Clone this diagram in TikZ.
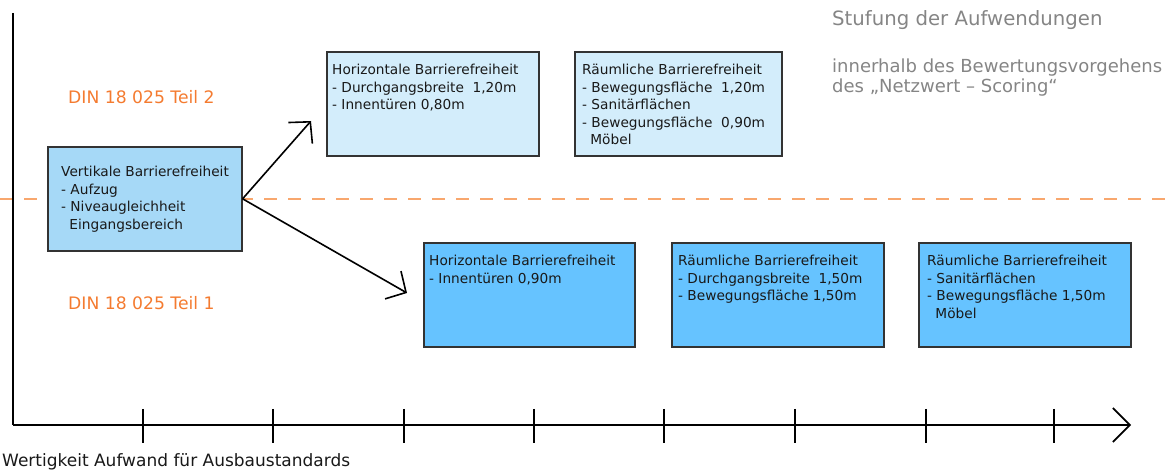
\documentclass[tikz,border=0pt]{standalone}
\usepackage{fontspec}
\setmainfont{DejaVu Sans}
\usetikzlibrary{arrows.meta,positioning}
\definecolor{dinorange}{HTML}{F47B30}
\definecolor{dashorange}{HTML}{F8A76E}
\definecolor{boxpale}{HTML}{D3EDFB}
\definecolor{boxmid}{HTML}{A6D9F7}
\definecolor{boxdeep}{HTML}{66C3FF}
\definecolor{notegray}{HTML}{858585}

\begin{document}
\begin{tikzpicture}[
  x=1pt, y=-1pt,
  box/.style={draw=black!80, line width=1.6pt, anchor=north west, inner sep=0pt, minimum width=212pt, minimum height=104pt},
  boxtext/.style={inner sep=0pt, align=left, font=\fontsize{13.7}{17.5}\selectfont, text=black!90},
  din/.style={anchor=west, inner sep=0pt, text=dinorange, font=\fontsize{17.2}{20}\selectfont},
  note/.style={inner sep=0pt, align=left, text=notegray, font=\fontsize{18}{20}\selectfont},
  arr/.style={line width=1.6pt, -{Straight Barb[length=15pt,width=32pt]}},
  axisline/.style={line width=1.6pt}
]
\useasboundingbox (0,0) rectangle (1171,470);

% level split between Teil 1 and Teil 2
\draw[dashorange, line width=1.4pt, dash pattern=on 13pt off 11pt] (0,199) -- (1171,199);

% axes
\coordinate (ytop) at (13,13);
\coordinate (origin) at (13,425);
\coordinate (xend) at (1131,425);
\draw[axisline] (ytop) -- (origin);
\draw[axisline, -{Straight Barb[length=17pt,width=34pt]}] (origin) -- (xend);
\foreach \x in {143,273,404,534,664,795,926,1054}
  \draw[axisline] (\x,409) -- (\x,443);
\node[anchor=west, inner sep=0pt, text=black!90, font=\fontsize{17}{20}\selectfont] (xlabel) at (2,462) {Wertigkeit Aufwand für Ausbaustandards};

% norm labels
\node[din] (teil2) at (68,97) {DIN 18 025 Teil 2};
\node[din] (teil1) at (68,303) {DIN 18 025 Teil 1};

% heading on the right
\node[note, anchor=west, font=\fontsize{19.7}{22}\selectfont] (title) at (832,20) {Stufung der Aufwendungen};
\node[note, anchor=north west] (scoring) at (832,59) {innerhalb des Bewertungsvorgehens\\des „Netzwert – Scoring“};

% start box
\node[box, fill=boxmid, minimum width=194pt] (vert) at (47,146) {};
\node[boxtext, below right=20pt and 14pt of vert.north west] (verttxt)
  {Vertikale Barrierefreiheit\\- Aufzug\\- Niveaugleichheit\\\hspace{0.6em}Eingangsbereich};

% Teil 2 row
\node[box, fill=boxpale] (hor2) at (326,51) {};
\node[boxtext, below right=13pt and 6pt of hor2.north west] (hor2txt)
  {Horizontale Barrierefreiheit\\- Durchgangsbreite\ \ 1,20m\\- Innentüren 0,80m};
\node[box, fill=boxpale, minimum width=207pt] (raum2) at (574,51) {};
\node[boxtext, below right=13pt and 8pt of raum2.north west] (raum2txt)
  {Räumliche Barrierefreiheit\\- Bewegungsfläche\ \ 1,20m\\- Sanitärflächen\\- Bewegungsfläche\ \ 0,90m\\\hspace{0.6em}Möbel};

% Teil 1 row
\node[box, fill=boxdeep, minimum width=211pt] (hor1) at (423,242) {};
\node[boxtext, below right=13pt and 6pt of hor1.north west] (hor1txt)
  {Horizontale Barrierefreiheit\\- Innentüren 0,90m};
\node[box, fill=boxdeep] (raum1a) at (671,242) {};
\node[boxtext, below right=13pt and 7pt of raum1a.north west] (raum1atxt)
  {Räumliche Barrierefreiheit\\- Durchgangsbreite\ \ 1,50m\\- Bewegungsfläche 1,50m};
\node[box, fill=boxdeep] (raum1b) at (918,242) {};
\node[boxtext, below right=13pt and 9pt of raum1b.north west] (raum1btxt)
  {Räumliche Barrierefreiheit\\- Sanitärflächen\\- Bewegungsfläche 1,50m\\\hspace{0.6em}Möbel};

% branching arrows
\coordinate (up) at (311,121);
\coordinate (down) at (407,293);
\draw[arr] (vert.east) -- (up);
\draw[arr] (vert.east) -- (down);
\end{tikzpicture}
\end{document}
